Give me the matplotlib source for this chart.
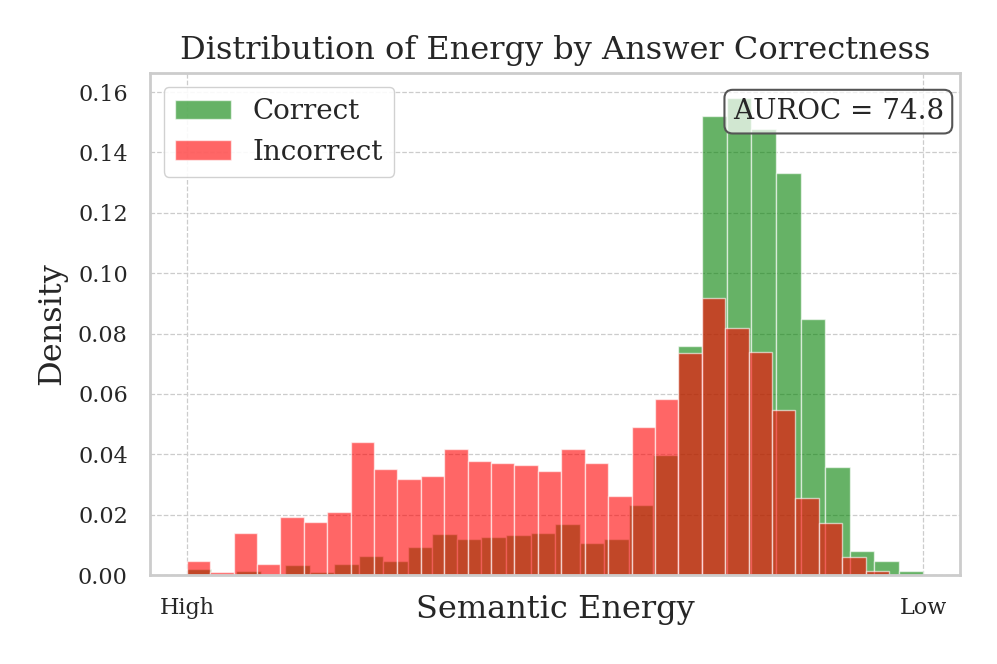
import numpy as np
import matplotlib
matplotlib.use('Agg')
import matplotlib.pyplot as plt
from matplotlib.patches import Patch

# Density per bin (30 bins each, left = high energy)
correct_density = [0.0021, 0.0, 0.0014, 0.0, 0.0032, 0.0010, 0.0035, 0.0062, 0.0047, 0.0094,
                   0.0135, 0.0120, 0.0125, 0.0131, 0.0140, 0.0168, 0.0107, 0.0120, 0.0231, 0.0397,
                   0.0760, 0.1520, 0.1580, 0.1476, 0.1332, 0.0847, 0.0359, 0.0080, 0.0045, 0.0014]
incorrect_density = [0.0047, 0.0010, 0.0138, 0.0036, 0.0193, 0.0177, 0.0209, 0.0441, 0.0350, 0.0317,
                     0.0328, 0.0418, 0.0377, 0.0370, 0.0365, 0.0343, 0.0418, 0.0370, 0.0262, 0.0489,
                     0.0582, 0.0734, 0.0917, 0.0820, 0.0740, 0.0547, 0.0256, 0.0173, 0.0059, 0.0013]
correct_range = (0.0, 30.0)
incorrect_range = (0.0, 28.6)
x_tick_labels = ['High', 'Low']
auroc = 74.8

plt.rcParams['font.family'] = 'DejaVu Serif'
plt.rcParams['text.color'] = '#262626'
plt.rcParams['axes.labelcolor'] = '#262626'
plt.rcParams['xtick.color'] = '#262626'
plt.rcParams['ytick.color'] = '#262626'

fig = plt.figure(figsize=(9.97, 6.64), dpi=100)
ax = fig.add_axes([0.1505, 0.134, 0.8125, 0.756])


def draw_hist(ax, density, lo, hi, color, label):
    edges = np.linspace(lo, hi, len(density) + 1)
    centers = (edges[:-1] + edges[1:]) / 2
    ax.hist(centers, bins=edges, weights=density, color=color, alpha=0.6,
            edgecolor='white', linewidth=1.0, label=label)


draw_hist(ax, correct_density, *correct_range, 'green', 'Correct')
draw_hist(ax, incorrect_density, *incorrect_range, 'red', 'Incorrect')

ax.set_ylim(0, 0.1663)
ax.set_xticks([correct_range[0], correct_range[1]])
ax.set_xticklabels(x_tick_labels)
ax.set_yticks(np.arange(0, 0.161, 0.02))
ax.yaxis.set_major_formatter(matplotlib.ticker.FormatStrFormatter('%.2f'))
ax.tick_params(axis='both', length=0, labelsize=16, pad=16)

ax.grid(True, linestyle='--', color='#cccccc', linewidth=0.9)
ax.set_axisbelow(True)
for s in ax.spines.values():
    s.set_color('#cccccc')
    s.set_linewidth(2)

ax.set_title('Distribution of Energy by Answer Correctness', fontsize=23, pad=10)
ax.set_xlabel('Semantic Energy', fontsize=23)
ax.xaxis.set_label_coords(0.5, -0.037)
ax.set_ylabel('Density', fontsize=23)
ax.yaxis.set_label_coords(-0.102, 0.5)

handles = [Patch(facecolor='green', alpha=0.6, edgecolor='white', label='Correct'),
           Patch(facecolor='red', alpha=0.6, edgecolor='white', label='Incorrect')]
ax.legend(handles=handles, loc='upper left', fontsize=20, frameon=True,
          edgecolor='#cccccc', framealpha=0.9)

ax.text(0.98, 0.95, 'AUROC = %.1f' % auroc, transform=ax.transAxes, ha='right', va='top',
        fontsize=20, bbox=dict(boxstyle='round', facecolor=(1, 1, 1, 0.7),
                               edgecolor='#555555', linewidth=1.5))

fig.savefig('out.png', dpi=100)
